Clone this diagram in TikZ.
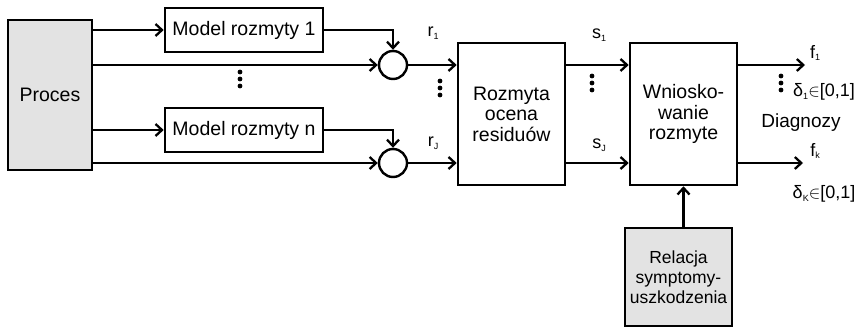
\documentclass[tikz,border=0pt]{standalone}
\usepackage{fontspec}
\setmainfont{Liberation Sans}
\usetikzlibrary{arrows.meta}
\newcommand{\lbl}[2]{{\fontsize{18}{18}\selectfont #1\raisebox{-2.5pt}{\fontsize{9}{9}\selectfont #2}}}
\begin{document}
\begin{tikzpicture}[x=1pt,y=-1pt,
  box/.style={draw,line width=2.6pt,inner sep=0pt,align=center,font=\fontsize{19.5}{20.5}\selectfont},
  tex/.style={box,fill=gray!22},
  sumc/.style={draw,line width=2.4pt,circle,minimum size=28pt,inner sep=0pt},
  arr/.style={line width=2.3pt,-{Straight Barb[length=6.5pt,width=12pt,line width=2.3pt]}},
  lab/.style={inner sep=0pt}]
\useasboundingbox (0,0) rectangle (866,328);
\node[tex,minimum width=84pt,minimum height=150pt] (proc) at (50,95) {Proces};
\node[box,minimum width=158pt,minimum height=44pt] (m1) at (244,30) {Model rozmyty 1};
\node[box,minimum width=158pt,minimum height=44pt] (mn) at (244,130) {Model rozmyty n};
\node[sumc] (c1) at (393,65) {};
\node[sumc] (c2) at (393,163) {};
\node[box,minimum width=107pt,minimum height=142pt] (roz) at (511.5,114) {Rozmyta\\ocena\\residuów};
\node[box,minimum width=107pt,minimum height=142pt] (wn) at (683.5,114) {Wniosko-\\wanie\\rozmyte};
\node[tex,minimum width=107pt,minimum height=98pt,font=\fontsize{17.5}{20}\selectfont] (rel) at (678.5,277) {Relacja\\symptomy-\\uszkodzenia};
\coordinate (f1e) at (805,65);
\coordinate (fke) at (803,163);
% connectors
\draw[arr] (proc.east |- m1.west) -- (m1.west);
\draw[arr] (proc.east |- mn.west) -- (mn.west);
\draw[arr] (proc.east |- c1.west) -- (c1.west);
\draw[arr] (proc.east |- c2.west) -- (c2.west);
\draw[arr] (m1.east) -| (c1.north);
\draw[arr] (mn.east) -| (c2.north);
\draw[arr] (c1.east) -- (roz.west |- c1.east);
\draw[arr] (c2.east) -- (roz.west |- c2.east);
\draw[arr] (roz.east |- c1.east) -- (wn.west |- c1.east);
\draw[arr] (roz.east |- c2.east) -- (wn.west |- c2.east);
\draw[arr] (wn.east |- f1e) -- (f1e);
\draw[arr] (wn.east |- fke) -- (fke);
\draw[arr] (rel.north -| wn.south) -- (wn.south);
% dots
\foreach \x/\y in {240/72,440/81,592/76,781/76}{
  \foreach \d in {0,7,14}{\fill (\x,\y+\d) circle (2.4pt);}}
% labels
\node[lab] (r1) at (433,33) {\lbl{r}{1}};
\node[lab] (rj) at (433,143) {\lbl{r}{J}};
\node[lab] (s1) at (599,35) {\lbl{s}{1}};
\node[lab] (sj) at (599,145) {\lbl{s}{J}};
\node[lab] (f1) at (815,53) {\lbl{f}{1}};
\node[lab] (fk) at (815,151) {\lbl{f}{k}};
\node[lab,font=\fontsize{18}{18}\selectfont] (d1) at (824,92) {δ\raisebox{-2.5pt}{\fontsize{9}{9}\selectfont 1}$\in$[0,1]};
\node[lab,font=\fontsize{19}{19}\selectfont] (dg) at (801,123) {Diagnozy};
\node[lab,font=\fontsize{18}{18}\selectfont] (dk) at (824,194) {δ\raisebox{-2.5pt}{\fontsize{9}{9}\selectfont K}$\in$[0,1]};
\end{tikzpicture}
\end{document}
